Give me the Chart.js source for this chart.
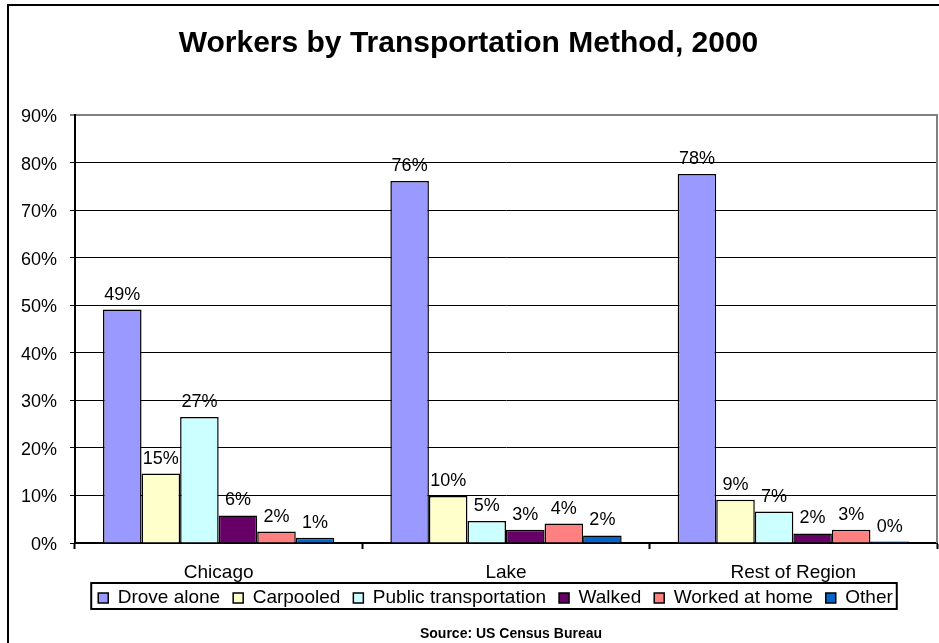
<!DOCTYPE html>
<html>
<head>
<meta charset="utf-8">
<title>Workers by Transportation Method, 2000</title>
<script src="https://cdn.jsdelivr.net/npm/chart.js@4.4.1/dist/chart.umd.min.js"></script>
<style>
  html, body { margin: 0; padding: 0; background: #ffffff; }
  canvas { display: block; }
</style>
</head>
<body>
<canvas id="chart" width="939" height="643"></canvas>
<script>
// Share of workers by means of getting to work (percent)
const categories = ['Chicago', 'Lake', 'Rest of Region'];
const seriesNames = ['Drove alone', 'Carpooled', 'Public transportation', 'Walked', 'Worked at home', 'Other'];
const droveAlone = [49.1, 76.1, 77.6];
const carpooled = [14.6, 9.9, 9.1];
const publicTransportation = [26.5, 4.6, 6.6];
const walked = [5.8, 2.8, 2.0];
const workedAtHome = [2.4, 4.1, 2.8];
const other = [1.1, 1.6, 0.3];
const yMax = 90;
const yStep = 10;
const sourceNote = 'Source: US Census Bureau';

const seriesValues = [droveAlone, carpooled, publicTransportation, walked, workedAtHome, other];
const seriesColors = ['#9999FF', '#FFFFCC', '#CCFFFF', '#660066', '#FF8080', '#0066CC'];

const FONT = "'Liberation Sans', Arial, Helvetica, sans-serif";
Chart.defaults.font.family = FONT;
Chart.defaults.color = '#000000';

// Value labels above every bar, frame lines, legend border and source line
const decorations = {
  id: 'decorations',
  afterLayout(chart) {
    const lg = chart.legend;
    if (lg) {
      // legend row sits just under the category names, shifted right of centre
      const h = lg.height;
      lg.left = 54;
      lg.top = 575.5;
      lg.bottom = lg.top + h;
    }
  },
  afterDatasetsDraw(chart) {
    const ctx = chart.ctx;
    ctx.save();
    ctx.font = '18px ' + FONT;
    ctx.fillStyle = '#000000';
    ctx.textAlign = 'center';
    ctx.textBaseline = 'alphabetic';
    chart.data.datasets.forEach((ds, di) => {
      const meta = chart.getDatasetMeta(di);
      meta.data.forEach((bar, i) => {
        const v = ds.data[i];
        ctx.fillText(Math.round(v) + '%', bar.x, bar.y - 10);
      });
    });
    ctx.restore();
  },
  afterDraw(chart) {
    const ctx = chart.ctx;
    const a = chart.chartArea;
    ctx.save();
    // grey plot frame on the right side
    ctx.strokeStyle = '#808080';
    ctx.lineWidth = 2;
    ctx.beginPath();
    ctx.moveTo(a.right, a.top - 1);
    ctx.lineTo(a.right, a.bottom);
    ctx.stroke();
    // outer chart frame
    ctx.strokeStyle = '#000000';
    ctx.lineWidth = 2;
    ctx.strokeRect(8, 5, 1200, 1200);
    // border round the legend
    const lg = chart.legend;
    if (lg && lg.legendHitBoxes && lg.legendHitBoxes.length) {
      const hb = lg.legendHitBoxes;
      const first = hb[0];
      const last = hb[hb.length - 1];
      const mid = first.top + first.height / 2;
      const x0 = first.left - 7;
      const x1 = last.left + last.width + 4;
      ctx.strokeRect(x0, mid - 15, x1 - x0, 26);
    }
    // source line
    ctx.font = 'bold 14px ' + FONT;
    ctx.fillStyle = '#000000';
    ctx.textAlign = 'center';
    ctx.textBaseline = 'middle';
    ctx.fillText(sourceNote, 511, 634);
    ctx.restore();
  }
};

new Chart(document.getElementById('chart'), {
  type: 'bar',
  data: {
    labels: categories,
    datasets: seriesNames.map((name, i) => ({
      label: name,
      data: seriesValues[i],
      backgroundColor: seriesColors[i],
      borderColor: '#000000',
      borderWidth: 1.5,
      categoryPercentage: 0.805,
      barPercentage: 1.0
    }))
  },
  options: {
    responsive: false,
    animation: false,
    devicePixelRatio: 1,
    layout: { padding: { left: 0, right: 2, top: 0, bottom: 13 } },
    plugins: {
      title: {
        display: true,
        text: 'Workers by Transportation Method, 2000',
        color: '#000000',
        font: { size: 30, weight: 'bold', family: FONT },
        padding: { top: 26, bottom: 53 }
      },
      legend: {
        display: true,
        position: 'bottom',
        labels: {
          color: '#000000',
          font: { size: 19, family: FONT },
          boxWidth: 10,
          boxHeight: 10,
          padding: 13
        }
      },
      tooltip: { enabled: false }
    },
    scales: {
      x: {
        afterFit(scale) { scale.height = 45; },
        grid: {
          display: true,
          drawOnChartArea: false,
          drawTicks: true,
          tickLength: 6,
          tickColor: '#000000',
          tickWidth: 2,
          offset: true
        },
        border: { display: true, color: '#000000', width: 2 },
        ticks: { color: '#000000', font: { size: 19 }, padding: 12 }
      },
      y: {
        min: 0,
        max: yMax,
        afterFit(scale) { scale.width = 75; },
        grid: {
          color: ctx => (ctx.tick && ctx.tick.value === yMax ? '#808080' : '#000000'),
          lineWidth: ctx => (ctx.tick && ctx.tick.value === yMax ? 2 : 1),
          tickColor: '#000000',
          tickWidth: 1,
          tickLength: 5
        },
        border: { display: true, color: '#000000', width: 2 },
        ticks: {
          stepSize: yStep,
          color: '#000000',
          font: { size: 18 },
          padding: 13,
          labelOffset: 2,
          callback: v => v + '%'
        }
      }
    }
  },
  plugins: [decorations]
});
</script>
</body>
</html>
